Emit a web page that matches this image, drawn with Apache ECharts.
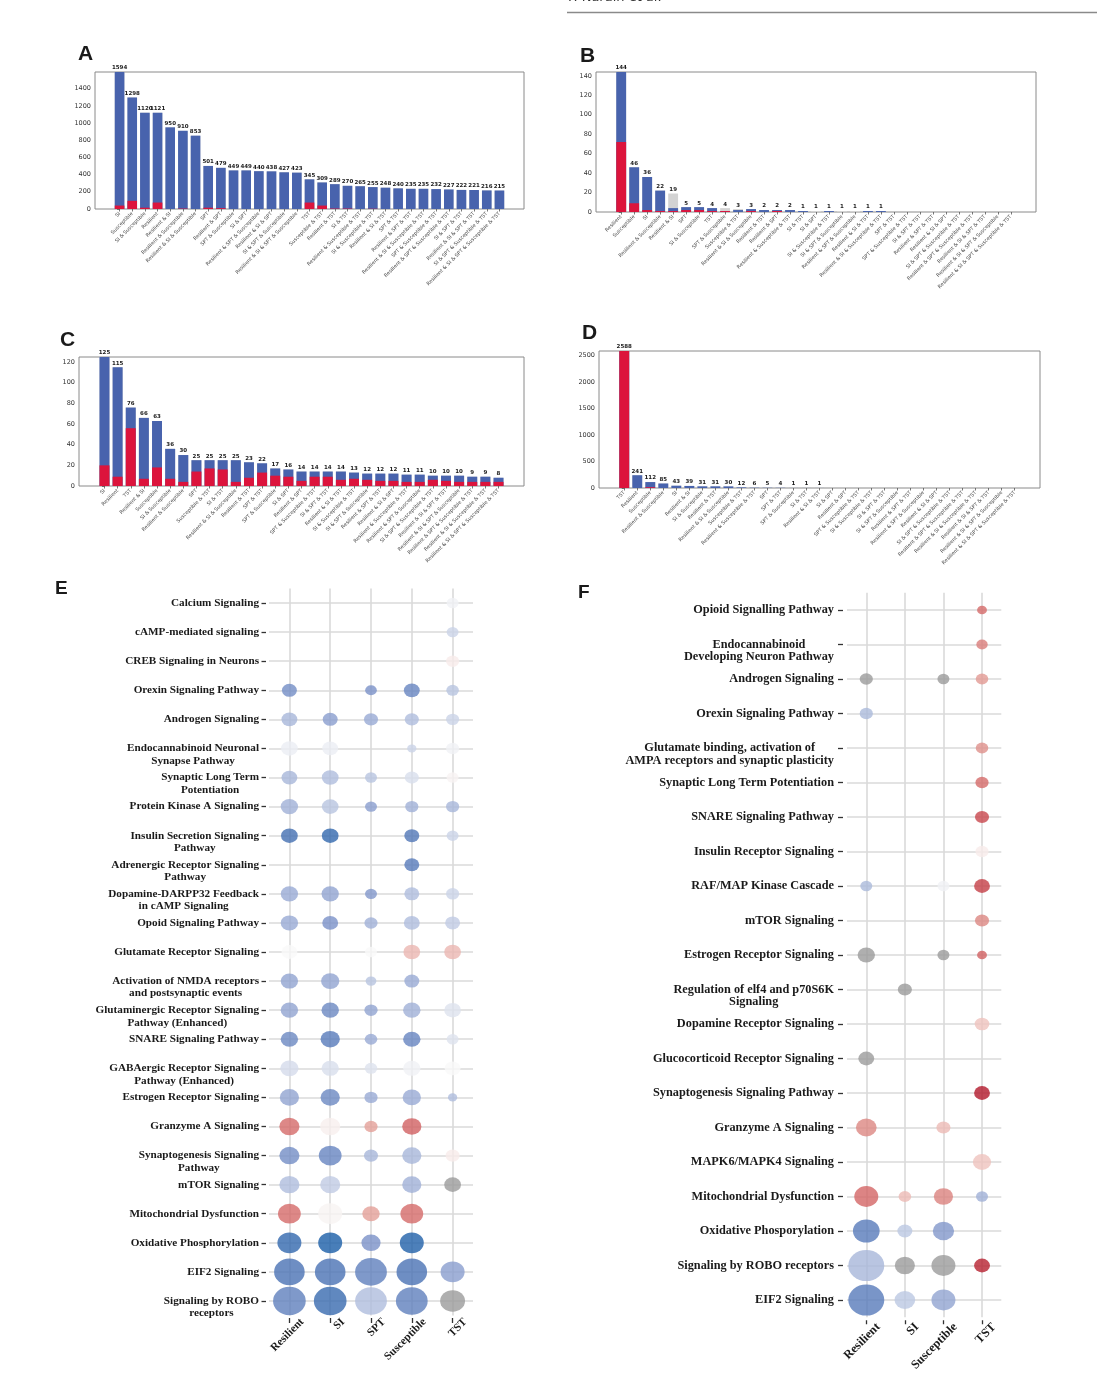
<!DOCTYPE html>
<html><head><meta charset="utf-8">
<script src="https://cdn.jsdelivr.net/npm/echarts@6/dist/echarts.min.js"></script>
<style>html,body{margin:0;padding:0;background:#fff}#c{width:1097px;height:1374px}</style>
</head><body><div id="c"></div>
<script>
// ---------------- Panel A ----------------
const catsA = ['SI','Susceptible','SI & Susceptible','Resilient','Resilient & SI','Resilient & Susceptible','Resilient & SI & Susceptible','SPT','Resilient & SPT','SPT & Susceptible','SI & SPT','Resilient & SPT & Susceptible','Resilient & SI & SPT','SI & SPT & Susceptible','Resilient & SI & SPT & Susceptible','TST','Susceptible & TST','Resilient & TST','SI & TST','Resilient & Susceptible & TST','SI & Susceptible & TST','Resilient & SI & TST','SPT & TST','Resilient & SPT & TST','Resilient & SI & Susceptible & TST','SPT & Susceptible & TST','Resilient & SPT & Susceptible & TST','SI & SPT & TST','Resilient & SI & SPT & TST','SI & SPT & Susceptible & TST','Resilient & SI & SPT & Susceptible & TST'];
const totalA = [1594,1298,1120,1121,950,910,853,501,479,449,449,440,438,427,423,345,309,289,270,265,255,248,240,235,235,232,227,222,221,216,215];
const redA   = [40,95,15,75,0,5,0,15,10,0,0,0,0,0,0,75,40,5,5,0,3,0,0,0,0,0,0,0,0,0,0];
const greyA  = [0,0,0,0,0,0,0,0,0,0,0,0,0,0,0,0,0,0,0,0,0,0,0,0,0,0,0,0,0,0,0];

// ---------------- Panel B ----------------
const catsB = ['Resilient','Susceptible','SI','Resilient & Susceptible','Resilient & SI','SPT','SI & Susceptible','TST','SPT & Susceptible','Susceptible & TST','Resilient & SI & Susceptible','Resilient & TST','Resilient & SPT','Resilient & Susceptible & TST','SI & TST','SI & SPT','SI & Susceptible & TST','SI & SPT & Susceptible','Resilient & SPT & Susceptible','Resilient & SI & TST','Resilient & SI & Susceptible & TST','SPT & TST','SPT & Susceptible & TST','SI & SPT & TST','Resilient & SPT & TST','Resilient & SI & SPT','SI & SPT & Susceptible & TST','Resilient & SPT & Susceptible & TST','Resilient & SI & SPT & TST','Resilient & SI & SPT & Susceptible','Resilient & SI & SPT & Susceptible & TST'];
const totalB = [144,46,36,22,19,5,5,4,4,3,3,2,2,2,1,1,1,1,1,1,1,0,0,0,0,0,0,0,0,0,0];
const redB   = [72,9,2,1,1,2,2,1,1,0,1,0,1,0,0,0,0,0,0,0,0,0,0,0,0,0,0,0,0,0,0];
const greyB  = [0,0,0,0,15,0,0,0,3,1,0,0,0,0,0,1,0,1,1,0,0,0,0,0,0,0,0,0,0,0,0];

// ---------------- Panel C ----------------
const catsC = ['SI','Resilient','TST','Resilient & SI','Susceptible','SI & Susceptible','Resilient & Susceptible','SPT','Susceptible & TST','SI & TST','Resilient & SI & Susceptible','Resilient & TST','SPT & TST','SPT & Susceptible','SI & SPT','Resilient & SPT','SPT & Susceptible & TST','SI & SPT & TST','Resilient & SI & TST','SI & Susceptible & TST','SI & SPT & Susceptible','Resilient & SPT & TST','Resilient & SI & SPT','Resilient & Susceptible & TST','Resilient & SPT & Susceptible','SI & SPT & Susceptible & TST','Resilient & SI & SPT & TST','Resilient & SI & SPT & Susceptible','Resilient & SPT & Susceptible & TST','Resilient & SI & Susceptible & TST','Resilient & SI & SPT & Susceptible & TST'];
const totalC = [125,115,76,66,63,36,30,25,25,25,25,23,22,17,16,14,14,14,14,13,12,12,12,11,11,10,10,10,9,9,8];
const redC   = [20,9,56,7,18,7,4,14,17,16,4,8,13,10,9,5,9,9,6,7,6,5,5,4,4,6,5,4,4,4,4];
const greyC  = [0,0,0,0,0,0,0,0,0,0,0,0,0,0,0,0,0,0,0,0,0,0,0,0,0,0,0,0,0,0,0];

// ---------------- Panel D ----------------
const catsD = ['TST','Resilient','Susceptible','Resilient & Susceptible','SI','Resilient & SI','SI & Susceptible','Resilient & TST','Resilient & SI & Susceptible','Susceptible & TST','Resilient & Susceptible & TST','SPT','SPT & TST','SPT & Susceptible','SI & TST','Resilient & SI & TST','SI & SPT','Resilient & SPT','SPT & Susceptible & TST','SI & Susceptible & TST','SI & SPT & TST','SI & SPT & Susceptible','Resilient & SPT & TST','Resilient & SPT & Susceptible','Resilient & SI & SPT','SI & SPT & Susceptible & TST','Resilient & SPT & Susceptible & TST','Resilient & SI & Susceptible & TST','Resilient & SI & SPT & TST','Resilient & SI & SPT & Susceptible','Resilient & SI & SPT & Susceptible & TST'];
const totalD = [2588,241,112,85,43,39,31,31,30,12,6,5,4,1,1,1,0,0,0,0,0,0,0,0,0,0,0,0,0,0,0];
const redD   = [2588,0,15,0,0,0,0,0,0,0,0,0,0,0,0,0,0,0,0,0,0,0,0,0,0,0,0,0,0,0,0];
const greyD  = [0,0,0,0,0,0,0,0,0,0,0,0,0,0,0,0,0,0,0,0,0,0,0,0,0,0,0,0,0,0,0];

// ---------------- Panel E (z-score, significance) ----------------
const colsE = ['Resilient','SI','SPT','Susceptible','TST'];
const rowsE = ['Calcium Signaling','cAMP-mediated signaling','CREB Signaling in Neurons','Orexin Signaling Pathway','Androgen Signaling','Endocannabinoid Neuronal\nSynapse Pathway','Synaptic Long Term\nPotentiation','Protein Kinase A Signaling','Insulin Secretion Signaling\nPathway','Adrenergic Receptor Signaling\nPathway','Dopamine-DARPP32 Feedback\nin cAMP Signaling','Opoid Signaling Pathway','Glutamate Receptor Signaling','Activation of NMDA receptors\nand postsynaptic events','Glutaminergic Receptor Signaling\nPathway (Enhanced)','SNARE Signaling Pathway','GABAergic Receptor Signaling\nPathway (Enhanced)','Estrogen Receptor Signaling','Granzyme A Signaling','Synaptogenesis Signaling\nPathway','mTOR Signaling','Mitochondrial Dysfunction','Oxidative Phosphorylation','EIF2 Signaling','Signaling by ROBO\nreceptors'];
const zE = [
 [null,null,null,null,-0.1],
 [null,null,null,null,-0.5],
 [null,null,null,null,0.2],
 [-1.6,null,-1.5,-1.8,-0.7],
 [-0.9,-1.3,-1.1,-0.8,-0.5],
 [-0.15,-0.15,null,-0.5,-0.1],
 [-0.9,-0.8,-0.7,-0.35,0.1],
 [-1.0,-0.7,-1.3,-1.0,-0.9],
 [-2.3,-2.6,null,-2.1,-0.5],
 [null,null,null,-2.0,null],
 [-1.1,-1.2,-1.4,-0.8,-0.5],
 [-1.1,-1.5,-1.0,-0.8,-0.6],
 [0,null,0,1.0,1.0],
 [-1.2,-1.2,-0.7,-1.1,null],
 [-1.2,-1.7,-1.2,-1.0,-0.3],
 [-1.7,-2.0,-1.1,-1.8,-0.3],
 [-0.4,-0.35,-0.3,-0.1,0],
 [-1.2,-1.7,-1.1,-1.1,-0.8],
 [2.0,0.15,1.4,2.1,null],
 [-1.6,-1.8,-0.9,-0.9,0.2],
 [-0.8,-0.6,null,-1.0,'NA'],
 [2.0,0.08,1.4,2.0,null],
 [-2.6,-3.0,-1.5,-2.9,null],
 [-2.2,-2.2,-1.9,-2.2,-1.3],
 [-1.9,-2.5,-0.8,-1.9,'NA']
];
const sE = [
 [null,null,null,null,2],
 [null,null,null,null,2],
 [null,null,null,null,2.4],
 [3,null,1.9,3.3,2.2],
 [3.3,3,2.7,2.7,2.4],
 [3.6,3.3,null,1.1,2.4],
 [3.3,3.6,2,2.7,2],
 [3.8,3.6,2,2.4,2.4],
 [3.6,3.6,null,3,2],
 [null,null,null,3,null],
 [3.8,3.8,2,3,2.4],
 [3.8,3.3,2.4,3.3,3],
 [3.3,null,2,3.6,3.6],
 [3.8,4.1,1.6,3,null],
 [3.8,3.8,2.4,3.8,3.6],
 [3.8,4.4,2.2,3.8,2],
 [4.1,3.8,2.2,3.8,3.3],
 [4.4,4.4,2.4,4.1,1.1],
 [4.7,4.7,2.4,4.4,null],
 [4.7,5.6,2.7,4.4,2.7],
 [4.7,4.7,null,4.4,3.6],
 [5.6,6,3.8,5.6,null],
 [6,6,4.4,6,null],
 [8.2,8.2,8.6,8.2,6],
 [8.9,8.9,8.6,8.6,6.3]
];

// ---------------- Panel F ----------------
const colsF = ['Resilient','SI','Susceptible','TST'];
const rowsF = ['Opioid Signalling Pathway','Endocannabinoid\nDeveloping Neuron Pathway','Androgen Signaling','Orexin Signaling Pathway','Glutamate binding, activation of\nAMPA receptors and synaptic plasticity','Synaptic Long Term Potentiation','SNARE Signaling Pathway','Insulin Receptor Signaling','RAF/MAP Kinase Cascade','mTOR Signaling','Estrogen Receptor Signaling','Regulation of elf4 and p70S6K\nSignaling','Dopamine Receptor Signaling','Glucocorticoid Receptor Signaling','Synaptogenesis Signaling Pathway','Granzyme A Signaling','MAPK6/MAPK4 Signaling','Mitochondrial Dysfunction','Oxidative Phosporylation','Signaling by ROBO receptors','EIF2 Signaling'];
const zF = [
 [null,null,null,2.0],
 [null,null,null,1.8],
 ['NA',null,'NA',1.5],
 [-0.85,null,null,null],
 [null,null,null,1.6],
 [null,null,null,2.0],
 [null,null,null,2.4],
 [null,null,null,0.2],
 [-0.85,null,-0.1,2.5],
 [null,null,null,1.7],
 ['NA',null,'NA',2.1],
 [null,'NA',null,null],
 [null,null,null,0.8],
 ['NA',null,null,null],
 [null,null,null,3.0],
 [1.7,null,0.95,null],
 [null,null,null,0.8],
 [2.05,0.95,1.75,-1.0],
 [-2.0,-0.65,-1.4,null],
 [-0.9,'NA','NA',2.9],
 [-2.0,-0.65,-1.2,null]
];
const sF = [
 [null,null,null,1.3],
 [null,null,null,1.8],
 [2.4,null,2,2.2],
 [2.4,null,null,null],
 [null,null,null,2.2],
 [null,null,null,2.4],
 [null,null,null,2.7],
 [null,null,null,2.4],
 [2,null,2,3.3],
 [null,null,null,2.7],
 [3.8,null,2,1.3],
 [null,2.7,null,null],
 [null,null,null,2.9],
 [3.3,null,null,null],
 [null,null,null,3.3],
 [4.9,null,2.7,null],
 [null,null,null,4.1],
 [6,2.2,4.4,2],
 [6.9,3,5.1,null],
 [10,4.7,6,3.3],
 [10,4.9,6,null]
];

// ---------------- build ----------------
const BLUE = '#4863ad', RED = '#dc143c', LGREY = '#d3d3d3';
const PAL = ['#1a5ea8','#4770b3','#7a91c8','#b3c0de','#f9f9f9','#f0c6c1','#e29a93','#cd5254','#b2182b'];
const ELLIPSE = 'path://M0,13A15,13,0,1,0,30,13A15,13,0,1,0,0,13Z';
const grids = [], xAxes = [], yAxes = [], series = [];
const colorSeries = [], sizeSeries = [];

function barPanel(frame, cats, totals, red, grey, yInt) {
  const k = grids.length;
  const n = cats.length;
  const idx = cats.map((_, i) => i);
  const pad = 0.05 * (n - 1 + 0.8);
  const xmin = -0.4 - pad, xmax = n - 1 + 0.4 + pad;
  const w = frame[2] - frame[0];
  grids.push({left: frame[0], top: frame[1], width: w, height: frame[3] - frame[1],
    show: true, borderColor: '#8a8a8a', borderWidth: 1, backgroundColor: 'rgba(0,0,0,0)'});
  xAxes.push({type: 'value', gridIndex: k, min: xmin, max: xmax,
    axisLine: {show: false}, splitLine: {show: false},
    axisTick: {show: true, customValues: idx, length: 2.5, lineStyle: {color: '#555', width: 0.8}},
    axisLabel: {customValues: idx, formatter: v => cats[Math.round(v)], rotate: 45, fontSize: 5,
      color: '#444', margin: 4, fontFamily: 'DejaVu Sans'}});
  yAxes.push({type: 'value', gridIndex: k, min: 0, max: Math.max(...totals), interval: yInt,
    axisLine: {show: false}, splitLine: {show: false},
    axisTick: {show: true, length: 2.5, lineStyle: {color: '#555', width: 0.8}},
    axisLabel: {fontSize: 6.5, color: '#333', margin: 4, showMaxLabel: false, fontFamily: 'DejaVu Sans',
      formatter: v => String(v)}});
  // overlapping bars: full total (grey part on top), red+blue, red
  const redBlue = totals.map((t, i) => t - grey[i]);
  const bw = 0.76 * w / (xmax - xmin);
  const mk = (arr, color, extra) => Object.assign({type: 'bar', xAxisIndex: k, yAxisIndex: k,
    barWidth: bw, barGap: '-100%', data: arr.map((v, i) => [i, v]), itemStyle: {color},
    silent: true, animation: false}, extra || {});
  series.push(mk(totals, LGREY, {label: {show: true, position: 'top', distance: 1, fontSize: 5.5,
    fontWeight: 'bold', color: '#1a1a1a', fontFamily: 'DejaVu Sans',
    formatter: p => totals[p.dataIndex] ? String(totals[p.dataIndex]) : ''}}));
  series.push(mk(redBlue, BLUE));
  series.push(mk(red, RED));
}

function fmtLab(v) {
  const ls = v.split('\n');
  const parts = ls.map(l => '{c|' + l + '}');
  if (ls.length > 1) parts.unshift('{c| }');
  return parts.join('\n');
}

function bubblePanel(g, cols, rows, zM, sM, fs, o) {
  const k = grids.length;
  grids.push({left: g[0], top: g[1], width: g[2] - g[0], height: g[3] - g[1]});
  xAxes.push({type: 'category', gridIndex: k, data: cols, offset: o.xOff,
    axisLine: {show: false}, splitLine: {show: false},
    axisTick: {show: true, alignWithLabel: true, length: o.xTick, lineStyle: {color: '#333', width: 1.3}},
    axisLabel: {interval: 0, rotate: 45, align: 'right', verticalAlign: 'middle',
      padding: [0, -o.xPad, 0, 0], margin: o.xMargin, fontFamily: 'Liberation Serif',
      fontWeight: 'bold', fontSize: fs, color: '#1a1a1a'}});
  yAxes.push({type: 'category', gridIndex: k, data: rows, inverse: true, offset: o.yOff,
    axisLine: {show: false}, splitLine: {show: false},
    axisTick: {show: true, alignWithLabel: true, length: o.yTick, lineStyle: {color: '#333', width: 1.3}},
    axisLabel: {interval: 0, margin: o.yMargin, formatter: fmtLab,
      rich: {c: {align: 'center', fontFamily: 'Liberation Serif', fontWeight: 'bold', fontSize: fs,
        color: '#1a1a1a', lineHeight: 12.5}}}});
  series.push({type: 'scatter', xAxisIndex: k, yAxisIndex: k, data: [], z: 1, silent: true,
    markLine: {silent: true, z: 1, symbol: ['none', 'none'], label: {show: false}, animation: false,
      lineStyle: {color: '#dadada', width: 1.6, type: 'solid'},
      data: [...cols.map(c => ({xAxis: c})), ...rows.map(r => ({yAxis: r}))]}});
  const colData = [], greyData = [];
  zM.forEach((row, r) => row.forEach((z, c) => {
    if (z === null) return;
    if (z === 'NA') greyData.push([c, r, sM[r][c]]);
    else colData.push([c, r, sM[r][c], z]);
  }));
  colorSeries.push(series.length); sizeSeries.push(series.length);
  series.push({type: 'scatter', xAxisIndex: k, yAxisIndex: k, data: colData, z: 6,
    symbol: ELLIPSE, symbolKeepAspect: true, silent: true, animation: false});
  sizeSeries.push(series.length);
  series.push({type: 'scatter', xAxisIndex: k, yAxisIndex: k, data: greyData, z: 6,
    symbol: ELLIPSE, symbolKeepAspect: true, itemStyle: {color: '#9b9b9b'}, silent: true, animation: false});
}

barPanel([95, 72, 524, 209], catsA, totalA, redA, greyA, 200);
barPanel([596, 72, 1036, 212], catsB, totalB, redB, greyB, 20);
barPanel([79, 357, 524, 486], catsC, totalC, redC, greyC, 20);
barPanel([599, 351, 1040, 488], catsD, totalD, redD, greyD, 500);
bubblePanel([269, 588.5, 473, 1315.5], colsE, rowsE, zE, sE, 11.2,
  {xOff: 2.5, xTick: 5, xMargin: 15, xPad: 18, yOff: 3, yTick: 4.5, yMargin: 7});
bubblePanel([847, 592.75, 1001.3, 1317.25], colsF, rowsF, zF, sF, 12.3,
  {xOff: 3, xTick: 4, xMargin: 17, xPad: 17, yOff: 4, yTick: 5, yMargin: 9});

const letter = (t, x, y, fs) => ({type: 'text', left: x, top: y - fs / 2, style: {text: t, fontSize: fs,
  fontWeight: 'bold', fill: '#1a1a1a', fontFamily: 'Liberation Sans'}});

const chart = echarts.init(document.getElementById('c'), null, {renderer: 'canvas'});
chart.setOption({
  animation: false,
  textStyle: {fontFamily: 'DejaVu Sans'},
  grid: grids, xAxis: xAxes, yAxis: yAxes, series,
  visualMap: [
    {type: 'continuous', show: false, dimension: 3, min: -3, max: 3, seriesIndex: colorSeries,
      inRange: {color: PAL}},
    {type: 'continuous', show: false, dimension: 2, min: 0, max: 10, seriesIndex: sizeSeries,
      inRange: {symbolSize: [6, 36]}}
  ],
  graphic: [
    {type: 'line', shape: {x1: 567, y1: 12.5, x2: 1097, y2: 12.5}, style: {stroke: '#8a8a8a', lineWidth: 1.3}},
    {type: 'text', left: 568, top: -9, style: {text: 'F. Narain et al.', fontSize: 13, fill: '#333', fontFamily: 'DejaVu Sans'}},
    letter('A', 78, 54, 21),
    letter('B', 580, 56, 21),
    letter('C', 60, 340, 21),
    letter('D', 582, 333, 21),
    letter('E', 55, 589, 19),
    letter('F', 578, 593, 19)
  ]
});
</script>
</body></html>
